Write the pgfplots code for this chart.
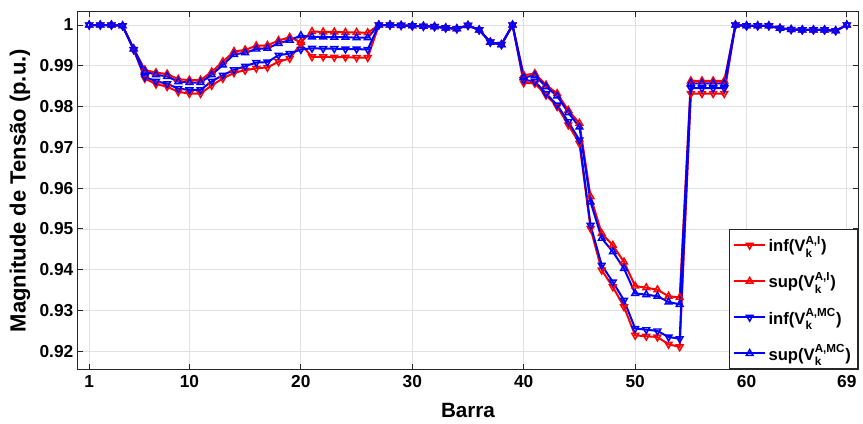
\documentclass[border=0pt]{standalone}
\usepackage{amsmath}
\usepackage{fontspec}
\setmainfont{Liberation Sans}
\usepackage{pgfplots}
\usepackage{pgfplotstable}
\pgfplotsset{compat=1.18}

% bus infA supA infMC supMC
\pgfplotstableread{
bus infA   supA   infM   supM
1   1.0000 1.0000 1.0000 1.0000
2   1.0000 1.0000 1.0000 1.0000
3   1.0000 1.0000 1.0000 1.0000
4   0.9998 0.9998 0.9998 0.9998
5   0.9939 0.9942 0.9940 0.9941
6   0.9869 0.9890 0.9873 0.9886
7   0.9855 0.9883 0.9862 0.9878
8   0.9849 0.9880 0.9856 0.9874
9   0.9836 0.9867 0.9844 0.9861
10  0.9832 0.9865 0.9841 0.9859
11  0.9832 0.9865 0.9841 0.9859
12  0.9852 0.9885 0.9862 0.9878
13  0.9869 0.9910 0.9877 0.9902
14  0.9883 0.9935 0.9890 0.9928
15  0.9889 0.9939 0.9899 0.9932
16  0.9894 0.9949 0.9908 0.9941
17  0.9896 0.9950 0.9909 0.9943
18  0.9910 0.9962 0.9926 0.9955
19  0.9918 0.9970 0.9930 0.9963
20  0.9953 0.9958 0.9940 0.9974
21  0.9922 0.9984 0.9943 0.9971
22  0.9922 0.9983 0.9942 0.9971
23  0.9921 0.9983 0.9942 0.9970
24  0.9921 0.9982 0.9941 0.9970
25  0.9920 0.9982 0.9941 0.9969
26  0.9920 0.9981 0.9940 0.9969
27  1.0000 1.0000 1.0000 1.0000
28  1.0000 1.0000 1.0000 1.0000
29  0.9999 0.9999 0.9999 0.9999
30  0.9998 0.9998 0.9998 0.9998
31  0.9997 0.9997 0.9997 0.9997
32  0.9996 0.9996 0.9996 0.9996
33  0.9993 0.9993 0.9993 0.9993
34  0.9991 0.9991 0.9991 0.9991
35  0.9999 0.9999 0.9999 0.9999
36  0.9988 0.9988 0.9988 0.9988
37  0.9958 0.9958 0.9958 0.9958
38  0.9952 0.9952 0.9952 0.9952
39  1.0000 1.0000 1.0000 1.0000
40  0.9858 0.9877 0.9865 0.9872
41  0.9857 0.9881 0.9862 0.9876
42  0.9828 0.9853 0.9832 0.9849
43  0.9800 0.9832 0.9804 0.9826
44  0.9755 0.9791 0.9763 0.9785
45  0.9710 0.9759 0.9718 0.9750
46  0.9501 0.9579 0.9509 0.9566
47  0.9399 0.9489 0.9411 0.9477
48  0.9358 0.9460 0.9370 0.9444
49  0.9309 0.9419 0.9325 0.9403
50  0.9239 0.9360 0.9256 0.9342
51  0.9237 0.9356 0.9253 0.9339
52  0.9235 0.9351 0.9250 0.9335
53  0.9217 0.9335 0.9235 0.9321
54  0.9211 0.9332 0.9231 0.9315
55  0.9832 0.9863 0.9845 0.9857
56  0.9832 0.9863 0.9845 0.9857
57  0.9832 0.9863 0.9845 0.9857
58  0.9832 0.9863 0.9845 0.9857
59  1.0000 1.0000 1.0000 1.0000
60  0.9998 0.9998 0.9998 0.9998
61  0.9998 0.9998 0.9998 0.9998
62  0.9998 0.9998 0.9998 0.9998
63  0.9992 0.9992 0.9992 0.9992
64  0.9989 0.9989 0.9989 0.9989
65  0.9988 0.9988 0.9988 0.9988
66  0.9988 0.9988 0.9988 0.9988
67  0.9988 0.9988 0.9988 0.9988
68  0.9986 0.9986 0.9986 0.9986
69  1.0000 1.0000 1.0000 1.0000
}\voltdata

\begin{document}
\begin{tikzpicture}
\begin{axis}[
  scale only axis,
  width=585pt, height=268pt,
  xmin=0, xmax=70,
  ymin=0.91558, ymax=1.00319,
  xtick={1,10,20,30,40,50,60,69},
  xticklabels={1,10,20,30,40,50,60,69},
  ytick={0.92,0.93,0.94,0.95,0.96,0.97,0.98,0.99,1},
  yticklabels={0.92,0.93,0.94,0.95,0.96,0.97,0.98,0.99,1},
  /pgf/number format/assume math mode=true,
  tick align=inside,
  major tick length=4pt,
  grid=major,
  major grid style={black!12, line width=0.6pt},
  axis line style={black!85, line width=0.75pt},
  every tick/.style={black!85, line width=0.75pt},
  tick label style={font=\bfseries\fontsize{13}{15}\selectfont},
  xticklabel style={yshift=-1pt},
  xlabel={Barra},
  ylabel={Magnitude de Tensão (p.u.)},
  xlabel style={font=\bfseries\fontsize{15.5}{18}\selectfont,
    at={(axis description cs:0.5,-0.1147)}, anchor=center},
  ylabel style={font=\bfseries\fontsize{16.5}{18}\selectfont,
    at={(axis description cs:-0.0744,0.5)}, anchor=center},
  legend style={at={(1,0)}, anchor=south east, draw=black!85, line width=0.75pt,
    fill=white, font=\bfseries\fontsize{12.5}{14}\selectfont,
    row sep=10pt, inner sep=3pt, cells={anchor=west}},
  legend image code/.code={\draw[mark repeat=2,mark phase=2]
    plot coordinates {(0cm,0cm) (0.4cm,0cm) (0.8cm,0cm)};},
  every axis plot/.append style={line width=1.5pt},
]
\addplot[red, mark=triangle, mark size=2.9pt, mark options={solid, rotate=180, line width=1.1pt}]
  table[x=bus, y=infA] {\voltdata};
\addplot[red, mark=triangle, mark size=2.9pt, mark options={solid, line width=1.1pt}]
  table[x=bus, y=supA] {\voltdata};
\addplot[blue, mark=triangle, mark size=2.9pt, mark options={solid, rotate=180, line width=1.1pt}]
  table[x=bus, y=infM] {\voltdata};
\addplot[blue, mark=triangle, mark size=2.9pt, mark options={solid, line width=1.1pt}]
  table[x=bus, y=supM] {\voltdata};
\legend{inf(V$_{\textbf{k}}^{\textbf{A,I}}$),
        sup(V$_{\textbf{k}}^{\textbf{A,I}}$),
        inf(V$_{\textbf{k}}^{\textbf{A,MC}}$),
        sup(V$_{\textbf{k}}^{\textbf{A,MC}}$)}
\end{axis}
\pgfresetboundingbox
\path (current axis.south west) ++(-58.5pt,-40.5pt) rectangle ([xshift=3.75pt,yshift=9pt]current axis.north east);
\end{tikzpicture}
\end{document}
